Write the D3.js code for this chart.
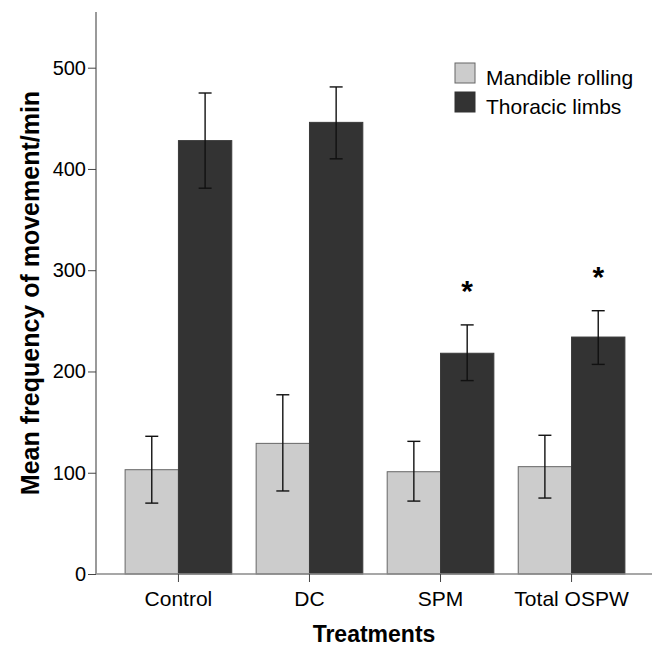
<!DOCTYPE html>
<html>
<head>
<meta charset="utf-8">
<script src="https://cdn.jsdelivr.net/npm/d3@7"></script>
<style>
  body { margin: 0; background: #fff; }
  text { font-family: "Liberation Sans", Arial, sans-serif; fill: #000; }
</style>
</head>
<body>
<div id="chart-area"></div>
<script>
// Data
var treatments = ["Control", "DC", "SPM", "Total OSPW"];
var seriesNames = ["Mandible rolling", "Thoracic limbs"];
var mandible = [103, 129, 101, 106];
var mandibleLow = [70, 82, 72, 75];
var mandibleHigh = [136, 177, 131, 137];
var thoracic = [428, 446, 218, 234];
var thoracicLow = [381, 410, 191, 207];
var thoracicHigh = [475, 481, 246, 260];
var significant = [false, false, true, true];
var yTicks = [0, 100, 200, 300, 400, 500];

var width = 652, height = 648;
var plot = { left: 96, right: 652, top: 12, bottom: 574 };
var colors = ["#cccccc", "#333333"];

var svg = d3.select("#chart-area")
  .append("svg")
  .attr("width", width)
  .attr("height", height);

// Scales
var x = d3.scaleBand()
  .domain(treatments)
  .range([112, 638])
  .paddingInner(0.186)
  .paddingOuter(0.1);
var xSub = d3.scaleBand()
  .domain(seriesNames)
  .range([0, x.bandwidth()]);
var y = d3.scaleLinear()
  .domain([0, 555])
  .range([plot.bottom, plot.top]);

// rows per bar
var rows = [];
treatments.forEach(function (t, i) {
  rows.push({ t: t, s: seriesNames[0], v: mandible[i], lo: mandibleLow[i], hi: mandibleHigh[i] });
  rows.push({ t: t, s: seriesNames[1], v: thoracic[i], lo: thoracicLow[i], hi: thoracicHigh[i] });
});

// Bars
svg.selectAll("rect.bar").data(rows).enter()
  .append("rect")
  .attr("class", "bar")
  .attr("x", function (d) { return x(d.t) + xSub(d.s); })
  .attr("y", function (d) { return y(d.v); })
  .attr("width", xSub.bandwidth())
  .attr("height", function (d) { return y(0) - y(d.v); })
  .attr("fill", function (d) { return d.s === seriesNames[0] ? colors[0] : colors[1]; })
  .attr("stroke", function (d) { return d.s === seriesNames[0] ? "#666" : "#3a3a3a"; })
  .attr("stroke-width", 1);

// Error bars
var err = svg.append("g").attr("stroke", "#111").attr("stroke-width", 1.4);
rows.forEach(function (d) {
  var cx = x(d.t) + xSub(d.s) + xSub.bandwidth() / 2;
  err.append("line").attr("x1", cx).attr("x2", cx).attr("y1", y(d.lo)).attr("y2", y(d.hi));
  err.append("line").attr("x1", cx - 6.5).attr("x2", cx + 6.5).attr("y1", y(d.lo)).attr("y2", y(d.lo));
  err.append("line").attr("x1", cx - 6.5).attr("x2", cx + 6.5).attr("y1", y(d.hi)).attr("y2", y(d.hi));
});

// Significance stars
treatments.forEach(function (t, i) {
  if (!significant[i]) return;
  svg.append("text")
    .attr("x", x(t) + xSub(seriesNames[1]) + xSub.bandwidth() / 2)
    .attr("y", y(thoracicHigh[i]) - 24)
    .attr("text-anchor", "middle")
    .attr("font-size", 30)
    .attr("font-weight", "bold")
    .text("*");
});

// Axes
svg.append("line")
  .attr("x1", plot.left).attr("x2", plot.right)
  .attr("y1", plot.bottom).attr("y2", plot.bottom)
  .attr("stroke", "#8a8a8a").attr("stroke-width", 1.5);
svg.append("line")
  .attr("x1", plot.left).attr("x2", plot.left)
  .attr("y1", plot.top).attr("y2", plot.bottom)
  .attr("stroke", "#9a9a9a").attr("stroke-width", 2);

var yAxis = svg.append("g")
  .attr("transform", "translate(" + plot.left + ",0)")
  .call(d3.axisLeft(y).tickValues(yTicks).tickSize(8).tickPadding(2).tickFormat(d3.format("d")));
yAxis.select(".domain").remove();
yAxis.selectAll(".tick line").attr("stroke", "#444");
yAxis.selectAll(".tick text")
  .attr("font-size", 20)
  .style("font-family", "'Liberation Sans', Arial, sans-serif")
  .attr("fill", "#000");

var xAxis = svg.append("g")
  .attr("transform", "translate(0," + plot.bottom + ")")
  .call(d3.axisBottom(x).tickSize(8).tickPadding(9));
xAxis.select(".domain").remove();
xAxis.selectAll(".tick line").attr("stroke", "#444");
xAxis.selectAll(".tick text")
  .attr("font-size", 21)
  .style("font-family", "'Liberation Sans', Arial, sans-serif")
  .attr("fill", "#000");

// Axis titles
svg.append("text")
  .attr("x", (plot.left + plot.right) / 2)
  .attr("y", 642)
  .attr("text-anchor", "middle")
  .attr("font-size", 23)
  .attr("font-weight", "bold")
  .text("Treatments");

svg.append("text")
  .attr("transform", "translate(39," + ((plot.top + plot.bottom) / 2) + ") rotate(-90)")
  .attr("text-anchor", "middle")
  .attr("font-size", 25)
  .attr("font-weight", "bold")
  .text("Mean frequency of movement/min");

// Legend
var legend = svg.append("g").attr("transform", "translate(455,63)");
seriesNames.forEach(function (name, i) {
  var row = legend.append("g").attr("transform", "translate(0," + (i * 29) + ")");
  row.append("rect")
    .attr("width", 20).attr("height", 20)
    .attr("fill", colors[i])
    .attr("stroke", i === 0 ? "#666" : "#333");
  row.append("text")
    .attr("x", 31).attr("y", 22)
    .attr("font-size", 21)
    .text(name);
});
</script>
</body>
</html>
